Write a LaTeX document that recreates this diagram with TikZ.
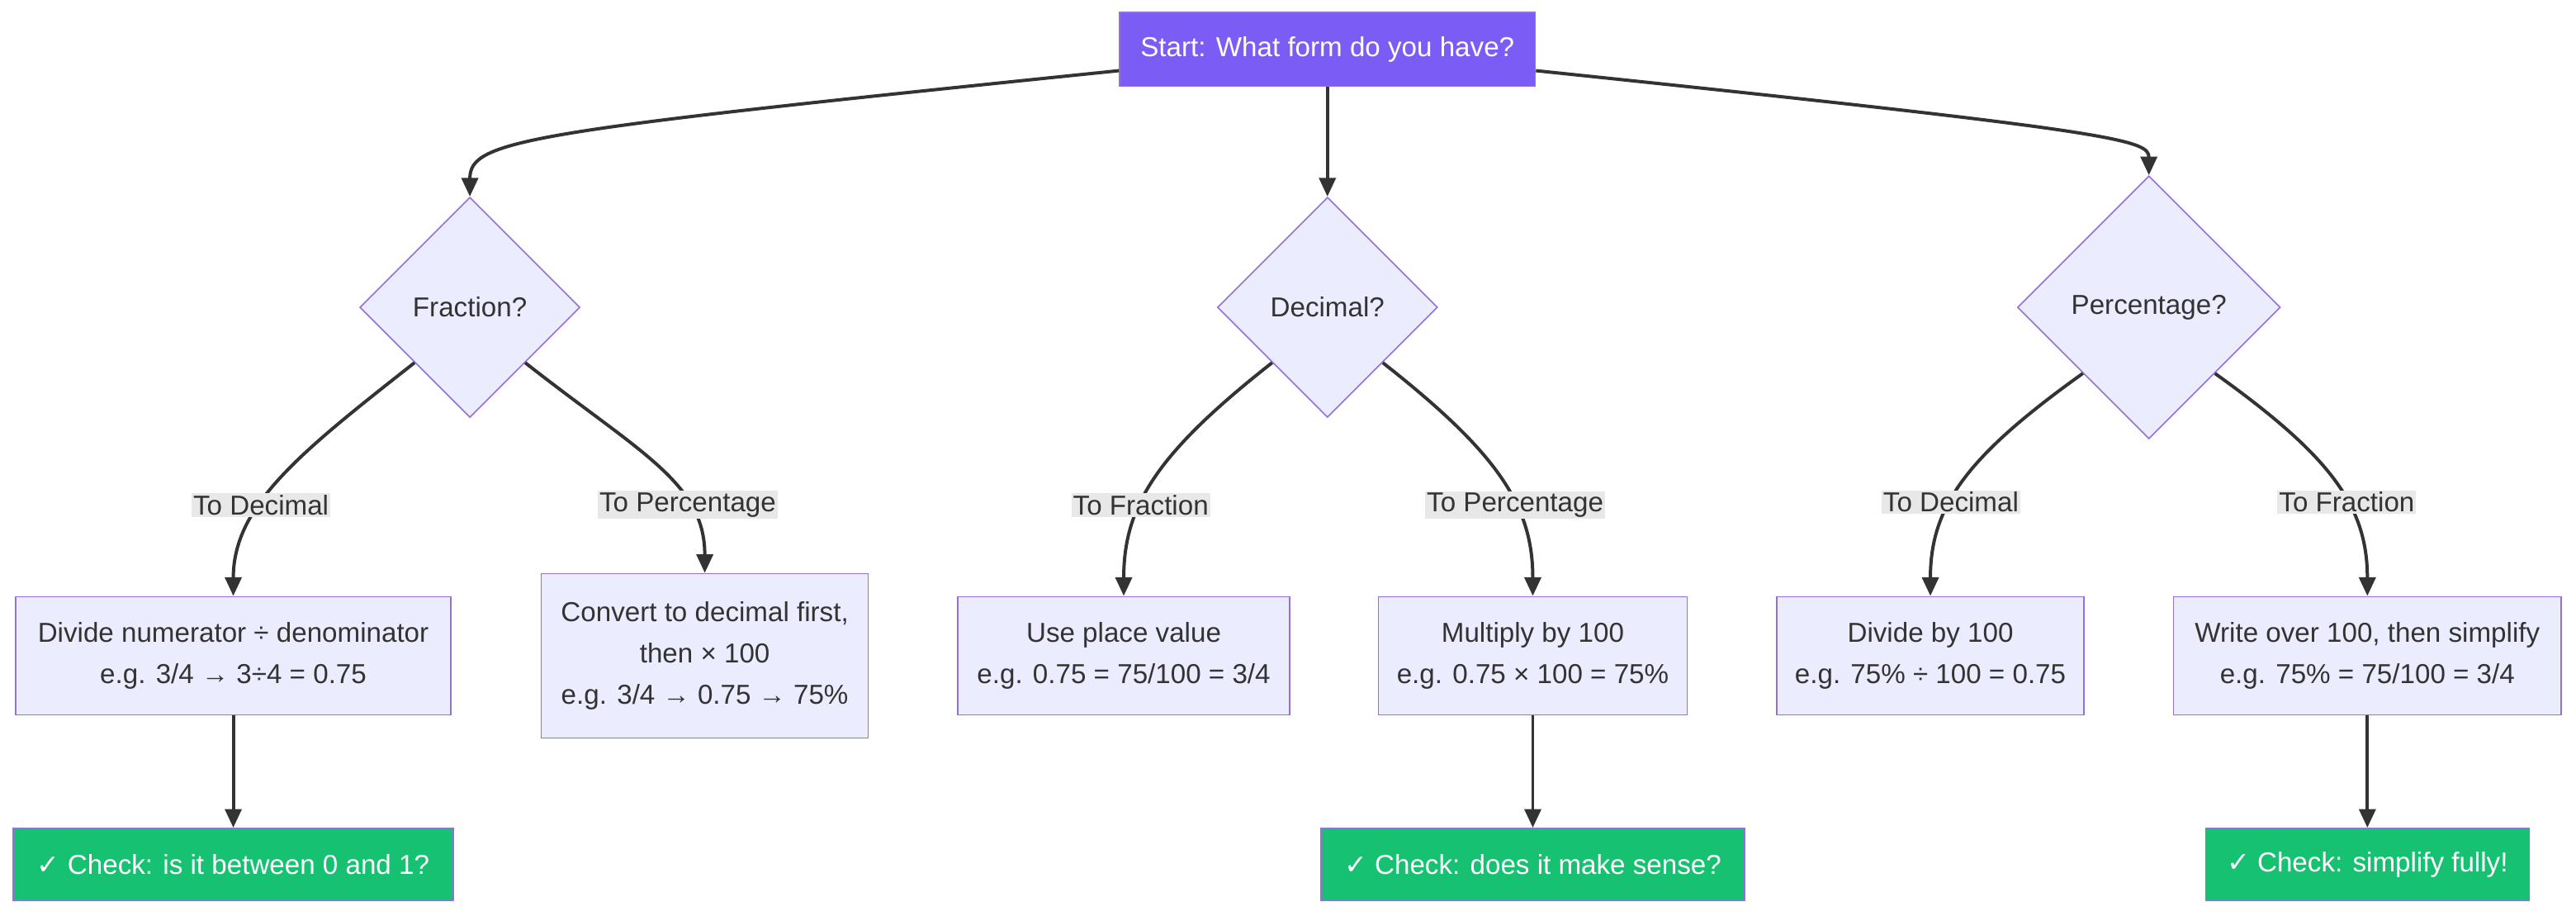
\documentclass[tikz,border=0pt]{standalone}
\usepackage{fontspec}
\setmainfont{Liberation Sans}
\newfontfamily\djv{DejaVu Sans}
\usetikzlibrary{shapes.geometric,arrows.meta}
\definecolor{boxfill}{HTML}{ECECFF}
\definecolor{boxline}{HTML}{9370DB}
\definecolor{startfill}{HTML}{7B5CF5}
\definecolor{okfill}{HTML}{16C172}
\definecolor{txt}{HTML}{333333}
\definecolor{lblbg}{HTML}{E8E8E8}
\tikzset{
  x=1.5pt,y=-1.5pt,
  every node/.style={font=\fontsize{25}{38}\selectfont,text=txt},
  box/.style={draw=boxline,line width=1.2pt,fill=boxfill,align=center,inner sep=0pt},
  dia/.style={diamond,draw=boxline,line width=1.2pt,fill=boxfill,inner sep=0pt,aspect=1},
  okbox/.style={draw=boxline,line width=1.2pt,fill=okfill,text=white,inner sep=0pt},
  lbl/.style={fill=lblbg,inner sep=1.5pt},
  arr/.style={draw=txt,line width=3pt,-{Triangle[length=17pt,width=15pt]}},
}
\begin{document}
\begin{tikzpicture}
\useasboundingbox[fill=white] (0,0) rectangle (1568,557);
\node[box,fill=startfill,text=white,minimum width=253*1.5pt,minimum height=45*1.5pt] (st) at (808,30) {Start: What form do you have?};
\node[dia,minimum width=134*1.5pt,minimum height=134*1.5pt] (fr) at (286,187) {Fraction?};
\node[dia,minimum width=134*1.5pt,minimum height=134*1.5pt] (de) at (808,187) {Decimal?};
\node[dia,minimum width=160*1.5pt,minimum height=160*1.5pt] (pe) at (1308,187) {Percentage?};

\node[box,minimum width=265*1.5pt,minimum height=72*1.5pt] (b1) at (142,399) {Divide numerator ÷ denominator\\e.g. 3/4 → 3÷4 = 0.75};
\node[box,minimum width=199*1.5pt,minimum height=100*1.5pt] (b2) at (429,399) {Convert to decimal first,\\then × 100\\e.g. 3/4 → 0.75 → 75\%};
\node[box,minimum width=202*1.5pt,minimum height=72*1.5pt] (b3) at (684,399) {Use place value\\e.g. 0.75 = 75/100 = 3/4};
\node[box,minimum width=188*1.5pt,minimum height=72*1.5pt] (b4) at (933,399) {Multiply by 100\\e.g. 0.75 × 100 = 75\%};
\node[box,minimum width=187*1.5pt,minimum height=72*1.5pt] (b5) at (1175,399) {Divide by 100\\e.g. 75\% ÷ 100 = 0.75};
\node[box,minimum width=236*1.5pt,minimum height=72*1.5pt] (b6) at (1441,399) {Write over 100, then simplify\\e.g. 75\% = 75/100 = 3/4};

\node[okbox,minimum width=268*1.5pt,minimum height=44*1.5pt] (c1) at (142,526) {{\djv ✓} Check: is it between 0 and 1?};
\node[okbox,minimum width=258*1.5pt,minimum height=44*1.5pt] (c2) at (933,526) {{\djv ✓} Check: does it make sense?};
\node[okbox,minimum width=197*1.5pt,minimum height=44*1.5pt] (c3) at (1441,526) {{\djv ✓} Check: simplify fully!};

\draw[arr] (st.west|-0,43) .. controls (320,80) and (286,85) .. (fr.north);
\draw[arr] (st.south) -- (de.north);
\draw[arr] (st.east|-0,43) .. controls (1290,80) and (1308,85) .. (pe.north);

\draw[arr] (fr.south west) .. controls +(-70,55) and +(0,-55) .. node[lbl,pos=0.62]{To Decimal} (b1.north);
\draw[arr] (fr.south east) .. controls +(70,55) and +(0,-55) .. node[lbl,pos=0.7]{To Percentage} (b2.north);
\draw[arr] (de.south west) .. controls +(-70,55) and +(0,-55) .. node[lbl,pos=0.62]{To Fraction} (b3.north);
\draw[arr] (de.south east) .. controls +(70,55) and +(0,-55) .. node[lbl,pos=0.62]{To Percentage} (b4.north);
\draw[arr] (pe.south west) .. controls +(-70,50) and +(0,-55) .. node[lbl,pos=0.6]{To Decimal} (b5.north);
\draw[arr] (pe.south east) .. controls +(70,50) and +(0,-55) .. node[lbl,pos=0.6]{To Fraction} (b6.north);

\draw[arr] (b1.south) -- (c1.north);
\draw[arr] (b4.south) -- (c2.north);
\draw[arr] (b6.south) -- (c3.north);
\end{tikzpicture}
\end{document}
